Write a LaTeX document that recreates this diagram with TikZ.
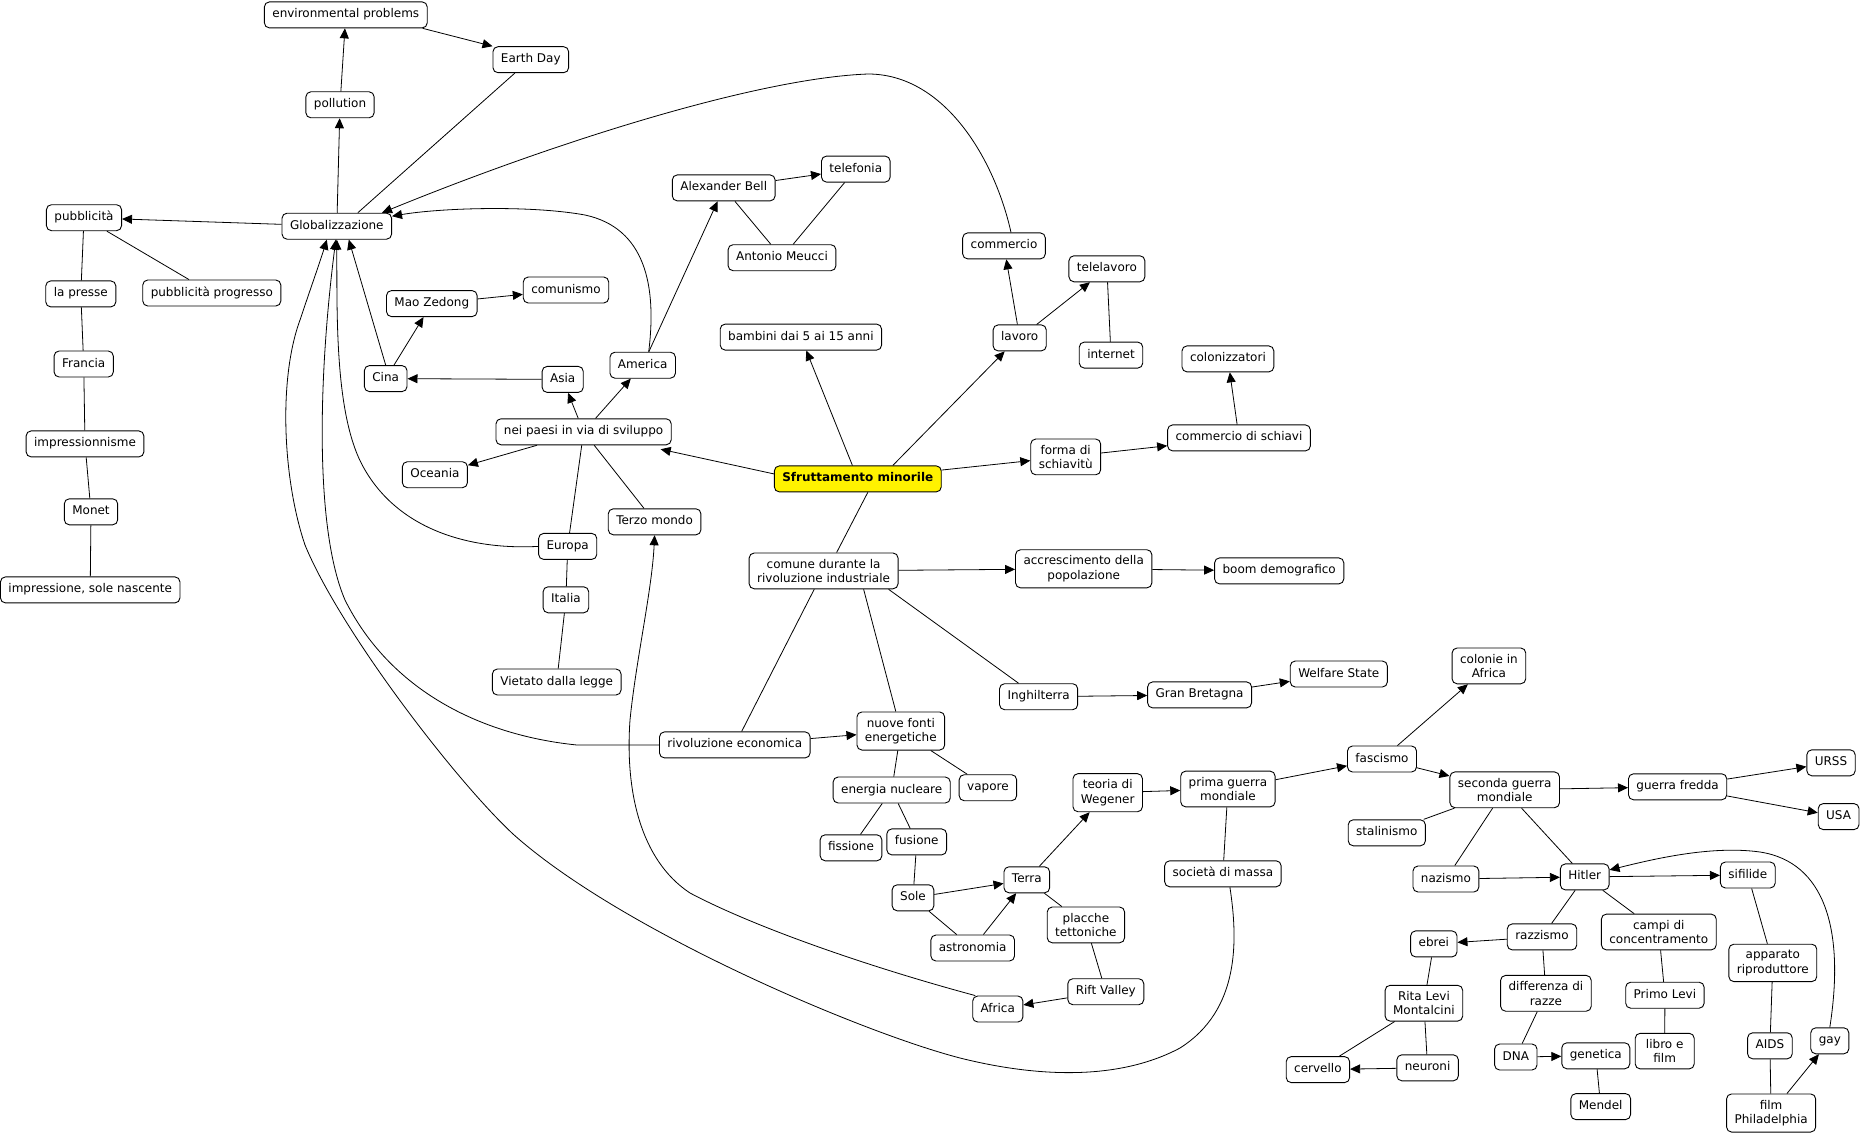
\documentclass[tikz,border=0pt]{standalone}
\usepackage{fontspec}
\setmainfont{DejaVu Sans}
\usetikzlibrary{arrows.meta}
\begin{document}
\begin{tikzpicture}[x=1pt,y=-1pt,
  box/.style={draw=black,line width=0.9pt,rounded corners=5pt,fill=white,font=\fontsize{12}{14.5}\selectfont,inner xsep=8pt,align=center},
  one/.style={box,text height=9pt,text depth=3pt,inner ysep=7pt},
  two/.style={box,inner ysep=6pt},
  ln/.style={line width=0.8pt},
  arr/.style={line width=0.8pt,-{Triangle[length=10pt,width=9pt]}}]
\fill[white] (0,0) rectangle (1862,1137);
\useasboundingbox (0,0) rectangle (1862,1137);
% nodes
\node[one] (env) at (345.8,14.9) {environmental problems};
\node[one] (earth) at (530.8,59.7) {Earth Day};
\node[one] (poll) at (340,104.8) {pollution};
\node[one] (glob) at (336.8,226.2) {Globalizzazione};
\node[one] (pub) at (84,217.7) {pubblicità};
\node[one] (presse) at (80.8,293.9) {la presse};
\node[one] (pubprog) at (211.8,293) {pubblicità progresso};
\node[one] (francia) at (83.7,364) {Francia};
\node[one] (impr) at (85,443.9) {impressionnisme};
\node[one] (monet) at (91,511.8) {Monet};
\node[one] (solen2) at (90.2,589.9) {impressione, sole nascente};
\node[one] (mao) at (431.8,303.6) {Mao Zedong};
\node[one] (comu) at (566,290) {comunismo};
\node[one] (cina) at (385.7,378.6) {Cina};
\node[one] (asia) at (562.7,379.4) {Asia};
\node[one] (nei) at (583.6,431.8) {nei paesi in via di sviluppo};
\node[one] (ocea) at (434.9,474.7) {Oceania};
\node[one] (europa) at (567.7,546.4) {Europa};
\node[one] (america) at (642.7,365.2) {America};
\node[one] (terzo) at (654.6,521.8) {Terzo mondo};
\node[one] (italia) at (565.9,599.8) {Italia};
\node[one] (vietato) at (556.7,682) {Vietato dalla legge};
\node[one] (tel) at (855.8,169.1) {telefonia};
\node[one] (bell) at (723.7,187.9) {Alexander Bell};
\node[one] (meucci) at (782,257.7) {Antonio Meucci};
\node[one] (comm) at (1004,245.9) {commercio};
\node[one] (telelav) at (1106.9,268.8) {telelavoro};
\node[one] (lavoro) at (1019.7,337.9) {lavoro};
\node[one] (internet) at (1111,355.1) {internet};
\node[one] (bamb) at (800.9,337.1) {bambini dai 5 ai 15 anni};
\node[one] (colon) at (1227.9,358.9) {colonizzatori};
\node[two] (forma) at (1065.7,456.9) {forma di\\schiavitù};
\node[one] (commsch) at (1239,437.9) {commercio di schiavi};
\node[one,fill=yellow,font=\fontsize{12}{14.5}\selectfont\bfseries] (sfr) at (857.8,478.9) {Sfruttamento minorile};
\node[two] (comune) at (823.6,570.9) {comune durante la\\rivoluzione industriale};
\node[two] (accr) at (1083.7,568.8) {accrescimento della\\popolazione};
\node[one] (boom) at (1279.2,570.9) {boom demografico};
\node[one] (ingh) at (1038.6,696.7) {Inghilterra};
\node[one] (granb) at (1199.6,694.9) {Gran Bretagna};
\node[one] (welf) at (1338.8,674) {Welfare State};
\node[one] (rivec) at (734.8,744.9) {rivoluzione economica};
\node[two] (nuove) at (900.8,731) {nuove fonti\\energetiche};
\node[one] (enuc) at (891.7,790) {energia nucleare};
\node[one] (vapore) at (987.9,787.7) {vapore};
\node[one] (fiss) at (851,847.8) {fissione};
\node[one] (fus) at (916.7,841.9) {fusione};
\node[one] (solen) at (913,897.8) {Sole};
\node[one] (terra) at (1026.8,879.8) {Terra};
\node[one] (astro) at (972.7,948) {astronomia};
\node[two] (placche) at (1085.9,924.9) {placche\\tettoniche};
\node[one] (rift) at (1105.8,991.7) {Rift Valley};
\node[one] (africa) at (997.8,1009) {Africa};
\node[two] (weg) at (1107.7,792.7) {teoria di\\Wegener};
\node[two] (prima) at (1227.9,789) {prima guerra\\mondiale};
\node[one] (massa) at (1222.9,873.8) {società di massa};
\node[two] (colafr) at (1488.9,665.9) {colonie in\\Africa};
\node[one] (fasc) at (1382,759) {fascismo};
\node[two] (seconda) at (1504.7,789.8) {seconda guerra\\mondiale};
\node[one] (fredda) at (1677.6,786.8) {guerra fredda};
\node[one] (urss) at (1831,762.8) {URSS};
\node[one] (usa) at (1838.6,816.6) {USA};
\node[one] (stal) at (1386.8,832.8) {stalinismo};
\node[one] (naz) at (1445.9,879) {nazismo};
\node[one] (hitler) at (1584.7,876.9) {Hitler};
\node[one] (sif) at (1747.8,875) {sifilide};
\node[two] (campi) at (1658.8,932) {campi di\\concentramento};
\node[one] (razz) at (1542,936.9) {razzismo};
\node[one] (ebrei) at (1433.8,943.9) {ebrei};
\node[two] (appar) at (1772.8,962.9) {apparato\\riproduttore};
\node[two] (diff) at (1545.9,993.3) {differenza di\\razze};
\node[two] (rita) at (1423.9,1003.2) {Rita Levi\\Montalcini};
\node[one] (primo) at (1664.9,995.2) {Primo Levi};
\node[two,minimum width=59pt] (libro) at (1664.7,1051.1) {libro e\\film};
\node[one] (dna) at (1515.8,1057) {DNA};
\node[one] (gen) at (1595.8,1055.8) {genetica};
\node[one] (mendel) at (1600.7,1106.6) {Mendel};
\node[one] (cerv) at (1317.9,1069.6) {cervello};
\node[one] (neur) at (1427.6,1067.8) {neuroni};
\node[one] (aids) at (1769.9,1045.8) {AIDS};
\node[one] (gay) at (1829.8,1040.8) {gay};
\node[two] (phil) at (1771.1,1113) {film\\Philadelphia};
% straight connectors
\draw[arr] (glob) -- (poll);
\draw[arr] (poll) -- (env);
\draw[arr] ([xshift=-5pt]env.south east) -- (earth.north west);
\draw[ln] ([xshift=-16pt]earth.south) -- ([xshift=21pt]glob.north);
\draw[arr] (glob) -- (pub);
\draw[ln] (pub) -- (presse);
\draw[ln] (pub) -- (pubprog);
\draw[ln] (presse) -- (francia);
\draw[ln] (francia) -- (impr);
\draw[ln] (impr) -- (monet);
\draw[ln] (monet) -- (solen2);
\draw[arr] (mao) -- (comu);
\draw[arr] (cina) -- (mao);
\draw[arr] (cina.north) -- ([xshift=12pt]glob.south);
\draw[arr] (asia) -- (cina);
\draw[arr] (nei) -- (asia);
\draw[arr] (nei) -- (america);
\draw[arr] (nei) -- (ocea);
\draw[ln] (nei) -- (europa);
\draw[ln] (nei) -- (terzo);
\draw[ln] (europa) -- (italia);
\draw[ln] (italia) -- (vietato);
\draw[arr] (america) -- (bell);
\draw[arr] (bell) -- (tel);
\draw[ln] (bell) -- (meucci);
\draw[ln] (tel) -- (meucci);
\draw[arr] ([yshift=5pt]sfr.west) -- ([xshift=-11pt,yshift=-4pt]nei.south east);
\draw[arr] (sfr) -- (bamb);
\draw[arr] ([xshift=35pt]sfr.north) -- ([xshift=-15pt]lavoro.south);
\draw[arr] (sfr) -- (forma);
\draw[ln] ([xshift=10pt]sfr.south) -- ([xshift=13pt]comune.north);
\draw[arr] (lavoro) -- (comm);
\draw[arr] (lavoro) -- (telelav);
\draw[ln] (telelav) -- (internet);
\draw[arr] (forma) -- (commsch);
\draw[arr] (commsch) -- (colon);
\draw[arr] (comune) -- (accr);
\draw[arr] (accr) -- (boom);
\draw[ln] (comune) -- (rivec);
\draw[ln] ([xshift=40pt]comune.south) -- ([xshift=-5pt]nuove.north);
\draw[ln] ([xshift=-10pt]comune.south east) -- ([xshift=-20pt]ingh.north);
\draw[arr] (ingh) -- (granb);
\draw[arr] (granb) -- (welf);
\draw[arr] (rivec) -- (nuove);
\draw[ln] (nuove) -- (enuc);
\draw[ln] (nuove) -- (vapore);
\draw[ln] (enuc) -- (fiss);
\draw[ln] (enuc) -- (fus);
\draw[ln] (fus) -- (solen);
\draw[ln] (solen) -- (astro);
\draw[arr] (solen) -- (terra);
\draw[arr] (astro) -- (terra);
\draw[arr] (terra) -- (weg);
\draw[ln] (terra) -- (placche);
\draw[ln] (placche) -- (rift);
\draw[arr] (rift) -- (africa);
\draw[arr] (weg) -- (prima);
\draw[ln] (prima) -- (massa);
\draw[arr] (prima) -- (fasc);
\draw[arr] (fasc) -- (colafr);
\draw[arr] (fasc) -- (seconda);
\draw[arr] (seconda) -- (fredda);
\draw[arr] (fredda) -- (urss);
\draw[arr] (fredda) -- (usa);
\draw[ln] (seconda) -- (stal);
\draw[ln] (seconda) -- (naz);
\draw[ln] (seconda) -- (hitler);
\draw[arr] (naz) -- (hitler);
\draw[arr] (hitler) -- (sif);
\draw[ln] (hitler) -- (razz);
\draw[ln] (hitler) -- (campi);
\draw[arr] (razz) -- (ebrei);
\draw[ln] (razz) -- (diff);
\draw[ln] (diff) -- (dna);
\draw[arr] (dna) -- (gen);
\draw[ln] (gen) -- (mendel);
\draw[ln] (campi) -- (primo);
\draw[ln] (primo) -- (libro);
\draw[ln] (ebrei) -- (rita);
\draw[ln] (rita) -- (cerv);
\draw[ln] (rita) -- (neur);
\draw[arr] (neur) -- (cerv);
\draw[ln] (sif) -- (appar);
\draw[ln] (appar) -- (aids);
\draw[ln] (aids) -- (phil);
\draw[arr] (phil) -- (gay);
% curved connectors
\draw[arr] ([xshift=7pt]comm.north) .. controls (995,160) and (945,74) .. (868,74) .. controls (760,78) and (560,140) .. ([xshift=-10pt]glob.north east);
\draw[arr] ([xshift=6pt]america.north) .. controls (657,285) and (645,228) .. (585,215) .. controls (530,205) and (440,208) .. ([yshift=10pt]glob.east);
\draw[arr] (europa.west) .. controls (470,550) and (400,530) .. (365,470) .. controls (335,420) and (337,320) .. (glob.south);
\draw[arr] (rivec.west) -- (576,744.9) .. controls (480,735) and (390,690) .. (345,600) .. controls (315,530) and (318,380) .. ([xshift=-1pt]glob.south);
\draw[arr] ([xshift=7pt]massa.south) .. controls (1238,940) and (1240,1010) .. (1180,1048) .. controls (1120,1080) and (1040,1078) .. (960,1058) .. controls (860,1032) and (620,930) .. (513,834) .. controls (455,780) and (340,630) .. (305,545) .. controls (283,480) and (278,380) .. (300,320) .. controls (310,290) and (320,262) .. ([xshift=-10pt]glob.south);
\draw[arr] ([xshift=3pt]africa.north west) .. controls (880,970) and (760,930) .. (690,893) .. controls (640,860) and (625,790) .. (630,720) .. controls (636,660) and (652,590) .. (terzo.south);
\draw[arr] (gay.north) .. controls (1845,930) and (1825,862) .. (1760,852) .. controls (1710,845) and (1650,860) .. ([yshift=7pt]hitler.east);
\end{tikzpicture}
\end{document}
